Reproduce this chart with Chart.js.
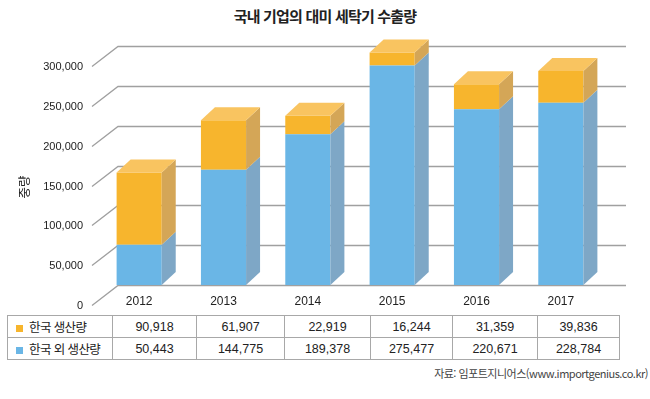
<!DOCTYPE html>
<html lang="ko">
<head>
<meta charset="utf-8">
<script src="https://cdn.jsdelivr.net/npm/chart.js@4"></script>
<style>
  body { margin: 0; background: #fff; }
  #wrap { position: relative; width: 650px; height: 399px; color: #222;
    font-family: "Liberation Sans", "Noto Sans CJK KR", sans-serif; }
  #title { position: absolute; top: 5px; left: 0; width: 650px; text-align: center;
    font: bold 15px "Noto Sans CJK KR", sans-serif; letter-spacing: -0.8px; }
  #chartBox { position: absolute; left: 0; top: 0; width: 650px; height: 315px; }
  #dataTable { position: absolute; left: 7px; top: 315px; width: 612px;
    border-collapse: collapse; table-layout: fixed; font-size: 12.5px; }
  #dataTable td { border: 1px solid #a8a8a8; height: 21px; padding: 0; text-align: center; }
  #dataTable td.name { text-align: left; padding-left: 8px; letter-spacing: -0.6px;
    font-family: "Noto Sans CJK KR", sans-serif; font-size: 12.5px; }
  .swatch { display: inline-block; width: 7px; height: 7px; margin-right: 6px; vertical-align: 0px; }
  #source { position: absolute; right: 2px; top: 365px; font-size: 11px; color: #444;
    font-family: "Noto Sans CJK KR", sans-serif; letter-spacing: -0.5px; }
</style>
</head>
<body>
<div id="wrap">
  <div id="title">국내 기업의 대미 세탁기 수출량</div>
  <div id="chartBox"><canvas id="exportChart"></canvas></div>
  <table id="dataTable">
    <colgroup>
      <col style="width:105px"><col style="width:84px"><col style="width:88px"><col style="width:86px">
      <col style="width:82px"><col style="width:85px"><col style="width:82px">
    </colgroup>
    <tbody id="tableBody"></tbody>
  </table>
  <div id="source">자료: 임포트지니어스(www.importgenius.co.kr)</div>
</div>
<script>
const years = ["2012", "2013", "2014", "2015", "2016", "2017"];
const koreaLabel = "한국 생산량";
const abroadLabel = "한국 외 생산량";
const koreaProduction = [90918, 61907, 22919, 16244, 31359, 39836];
const abroadProduction = [50443, 144775, 189378, 275477, 220671, 228784];
const yTickValues = [0, 50000, 100000, 150000, 200000, 250000, 300000];
const yAxisTitle = "중량";

const fmt = (v) => v.toLocaleString("en-US");

// colours: front / side / top
const blueFront = "#6ab6e6", blueSide = "#7ea7c6";
const orangeFront = "#f7b52d", orangeSide = "#d4a657", orangeTop = "#f9c460";

document.addEventListener("DOMContentLoaded", () => {
  // ======== data table ========
  const tbody = document.getElementById("tableBody");
  const rows = [
    { name: koreaLabel, color: orangeFront, values: koreaProduction },
    { name: abroadLabel, color: blueFront, values: abroadProduction },
  ];
  rows.forEach((row) => {
    const tr = document.createElement("tr");
    const nameTd = document.createElement("td");
    nameTd.className = "name";
    nameTd.innerHTML = `<span class="swatch" style="background:${row.color}"></span>${row.name}`;
    tr.appendChild(nameTd);
    row.values.forEach((v) => {
      const td = document.createElement("td");
      td.textContent = fmt(v);
      tr.appendChild(td);
    });
    tbody.appendChild(tr);
  });

  // ======== 3D look: back wall grid + bar sides/tops ========
  const depthX = 14, depthY = 13;
  const threeD = {
    id: "threeD",
    beforeDatasetsDraw(chart) {
      const { ctx, chartArea, scales } = chart;
      const wallLeft = chartArea.left + 21;
      const wallRight = chartArea.right + 23;
      ctx.save();
      ctx.strokeStyle = "#a0a0a0";
      ctx.lineWidth = 1.3;
      yTickValues.forEach((v) => {
        const py = Math.round(scales.y.getPixelForValue(v)) + 0.5;
        ctx.beginPath();
        ctx.moveTo(wallLeft - 26, py + 20);
        ctx.lineTo(wallLeft, py);
        ctx.lineTo(wallRight, py);
        ctx.stroke();
      });
      ctx.restore();
    },
    afterDatasetsDraw(chart) {
      const { ctx } = chart;
      const sides = [blueSide, orangeSide];
      const last = chart.data.datasets.length - 1;
      ctx.save();
      chart.data.datasets.forEach((ds, i) => {
        chart.getDatasetMeta(i).data.forEach((bar) => {
          const { x, y, base, width } = bar.getProps(["x", "y", "base", "width"], true);
          const l = x - width / 2, r = x + width / 2;
          ctx.fillStyle = sides[i];
          ctx.beginPath();
          ctx.moveTo(r, base);
          ctx.lineTo(r + depthX, base - depthY);
          ctx.lineTo(r + depthX, y - depthY);
          ctx.lineTo(r, y);
          ctx.closePath();
          ctx.fill();
          if (i === last) {
            ctx.fillStyle = orangeTop;
            ctx.beginPath();
            ctx.moveTo(l, y);
            ctx.lineTo(l + depthX, y - depthY);
            ctx.lineTo(r + depthX, y - depthY);
            ctx.lineTo(r, y);
            ctx.closePath();
            ctx.fill();
          }
        });
      });
      // y axis title
      ctx.translate(24, 187);
      ctx.rotate(-Math.PI / 2);
      ctx.fillStyle = "#222";
      ctx.font = '12.5px "Noto Sans CJK KR"';
      ctx.textAlign = "center";
      ctx.textBaseline = "middle";
      ctx.fillText(yAxisTitle, 0, 0);
      ctx.restore();
    },
  };

  new Chart(document.getElementById("exportChart"), {
    type: "bar",
    data: {
      labels: years,
      datasets: [
        { label: abroadLabel, data: abroadProduction, backgroundColor: blueFront, borderWidth: 0 },
        { label: koreaLabel, data: koreaProduction, backgroundColor: orangeFront, borderWidth: 0 },
      ],
    },
    options: {
      responsive: true,
      maintainAspectRatio: false,
      animation: false,
      layout: { padding: { top: 46, right: 47, left: 0, bottom: 0 } },
      datasets: { bar: { categoryPercentage: 1, barPercentage: 0.535 } },
      plugins: { legend: { display: false }, tooltip: { enabled: false } },
      scales: {
        x: {
          stacked: true,
          grid: { display: false, drawTicks: false },
          border: { display: false },
          ticks: { color: "#222", padding: 9, font: { family: "Liberation Sans", size: 12 } },
          afterFit: (s) => { s.height = 30; },
        },
        y: {
          stacked: true,
          min: 0,
          max: 300000,
          grid: { display: false, drawTicks: false },
          border: { display: false },
          afterBuildTicks: (s) => { s.ticks = yTickValues.map((v) => ({ value: v })); },
          ticks: {
            color: "#222",
            padding: 14,
            labelOffset: 21,
            font: { family: "Liberation Sans", size: 11 },
            callback: (v) => fmt(v),
          },
          afterFit: (s) => { s.width = 97; },
        },
      },
    },
    plugins: [threeD],
  });
});
</script>
</body>
</html>
